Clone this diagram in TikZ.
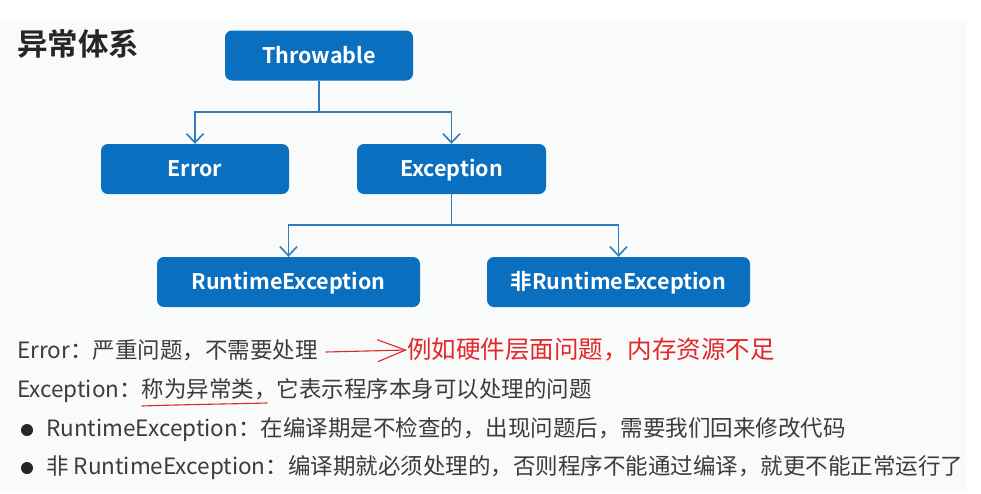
\documentclass[tikz,border=0pt]{standalone}
\usepackage{fontspec}
\setmainfont{Noto Sans CJK SC}[BoldFont={Noto Sans CJK SC Bold}]
\usetikzlibrary{arrows.meta}
\definecolor{boxblue}{HTML}{0B6FBF}
\definecolor{linkblue}{HTML}{2F7DC0}
\definecolor{txtgray}{HTML}{3C3C3C}
\definecolor{penred}{HTML}{E3262A}
\definecolor{panel}{HTML}{F9FAFA}
\tikzset{
  classbox/.style={fill=boxblue, rounded corners=7pt, text=white, font=\bfseries\fontsize{21.5}{24}\selectfont, inner sep=0pt, minimum height=50pt, text height=17.6pt, text depth=2.4pt},
  link/.style={draw=linkblue, line width=1.6pt},
  linkarrow/.style={link, -{Straight Barb[length=9pt,width=17pt,line width=1.6pt]}},
  bodytext/.style={anchor=west, inner sep=0pt, text=txtgray, font=\fontsize{22.5}{26}\selectfont},
  penline/.style={draw=penred, line width=1.1pt, line cap=round},
  bulletdot/.style={circle, fill=black!85, inner sep=0pt, minimum size=12pt}
}
\begin{document}
\begin{tikzpicture}[x=1pt,y=-1pt]
\useasboundingbox (0,0) rectangle (981,493);
\fill[panel] (0,20) rectangle (967,493);
% title
\node[anchor=west, inner sep=0pt, text=black!85, font=\bfseries\fontsize{30.5}{34}\selectfont] (title) at (17,44) {异常体系};
% class boxes
\node[classbox, minimum width=188pt] (thr) at (319,55.5) {Throwable};
\node[classbox, minimum width=188pt] (err) at (195,169) {Error};
\node[classbox, minimum width=189pt] (exc) at (451.5,169) {Exception};
\node[classbox, minimum width=263pt] (rte) at (288.5,282) {RuntimeException};
\node[classbox, minimum width=263pt] (nrte) at (618.5,282) {非RuntimeException};
% connectors
\coordinate (j1) at (319,112);
\coordinate (j2) at (451.5,225);
\draw[link] (thr.south) -- (j1);
\draw[linkarrow] (j1) -| (err.north);
\draw[linkarrow] (j1) -| (exc.north);
\draw[link] (exc.south) -- (j2);
\draw[linkarrow] (j2) -| (rte.north);
\draw[linkarrow] (j2) -| (nrte.north);
% text lines
\node[bodytext] (l1) at (17,350) {Error：严重问题，不需要处理};
\node[bodytext] (l2) at (17,391) {Exception：称为异常类，它表示程序本身可以处理的问题};
\node[bulletdot] (b1) at (27,430) {};
\node[bodytext] (l3) at (46,430) {RuntimeException：在编译期是不检查的，出现问题后，需要我们回来修改代码};
\node[bulletdot] (b2) at (27,468) {};
\node[bodytext] (l4) at (46,468) {非 RuntimeException：编译期就必须处理的，否则程序不能通过编译，就更不能正常运行了};
% red annotations
\node[anchor=west, inner sep=0pt, text=penred, font=\fontsize{24.5}{28}\selectfont] (note) at (407,350) {例如硬件层面问题，内存资源不足};
\coordinate (pstart) at (326,352);
\draw[penline, -{Straight Barb[length=28pt,width=22pt,line width=1.1pt]}] (pstart) -- (note.west);
\coordinate (u1) at (142,406);
\coordinate (u2) at (267,403);
\draw[penline] (u1) .. controls (185,404.5) and (230,404) .. (u2);
\end{tikzpicture}
\end{document}
